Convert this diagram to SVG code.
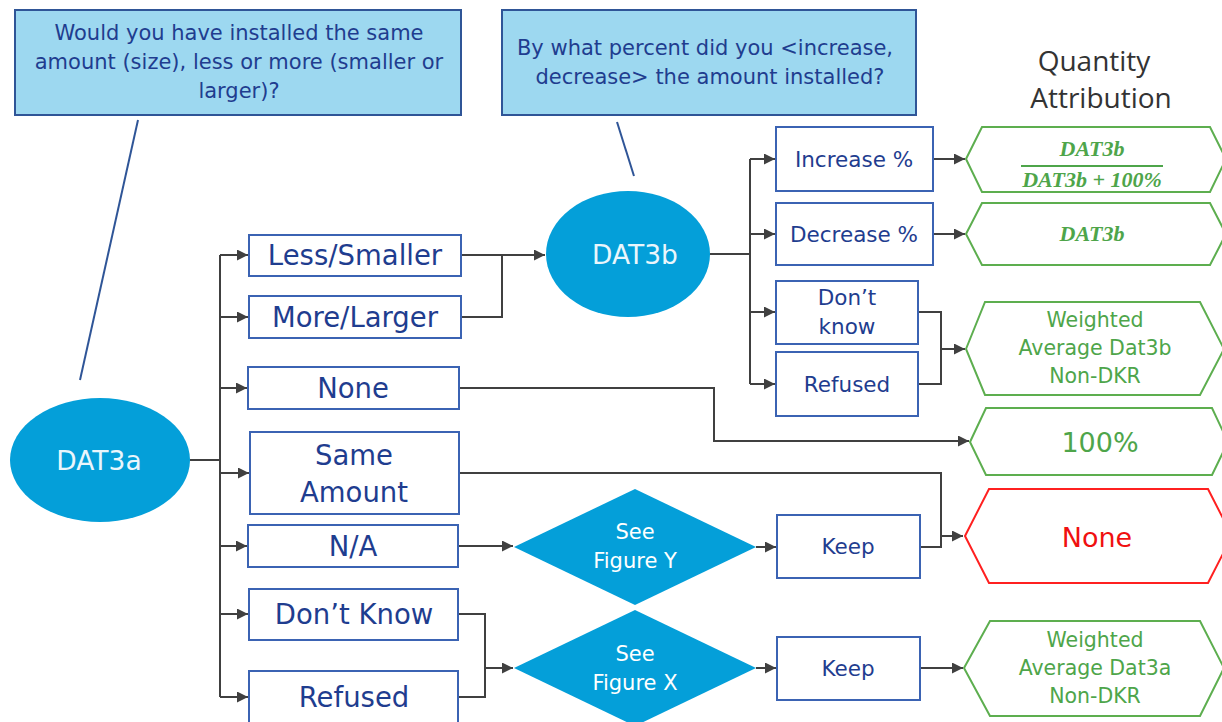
<svg xmlns="http://www.w3.org/2000/svg" width="1222" height="722" viewBox="0 0 1222 722">
<style>
.callout{fill:#9DD8F0;stroke:#2F5597;stroke-width:2}
.ctext{font-family:"DejaVu Sans",Verdana,sans-serif;font-size:21px;fill:#1F3D8F;text-anchor:middle}
.oval{fill:#049FD9}
.otext{font-family:"DejaVu Sans",sans-serif;font-size:26.5px;fill:#EAF6FC;text-anchor:middle;dominant-baseline:central}
.box{fill:#fff;stroke:#3B63B3;stroke-width:2}
.btext{font-family:"DejaVu Sans",Verdana,sans-serif;font-size:27.5px;fill:#1F3D8F;text-anchor:middle;dominant-baseline:central}
.stext{font-family:"DejaVu Sans",Verdana,sans-serif;font-size:21.5px;fill:#1F3D8F;text-anchor:middle;dominant-baseline:central}
.dtext{font-family:"DejaVu Sans",sans-serif;font-size:21px;fill:#fff;text-anchor:middle;dominant-baseline:central}
.ghex{fill:#fff;stroke:#5DAE4F;stroke-width:2}
.rhex{fill:#fff;stroke:#FF2020;stroke-width:2}
.gtext{font-family:"DejaVu Sans",sans-serif;font-size:20.5px;fill:#4EA54A;text-anchor:middle;dominant-baseline:central}
.math{font-family:"Liberation Serif","DejaVu Serif",serif;font-style:italic;font-weight:bold;font-size:22px;fill:#4EA54A;text-anchor:middle}
.conn{fill:none;stroke:#404040;stroke-width:2}
.arr{fill:none;stroke:#404040;stroke-width:2;marker-end:url(#ah)}
.cl{stroke:#2F5597;stroke-width:2}
.title{font-family:"Open Sans","Noto Sans",sans-serif;font-size:28px;fill:#333;text-anchor:middle}
</style>
<defs>
<marker id="ah" viewBox="0 0 10 10" refX="10" refY="5" markerWidth="5.5" markerHeight="5.5" markerUnits="strokeWidth" orient="auto">
<path d="M0,0 L10,5 L0,10 Z" fill="#404040"/>
</marker>
</defs>

<g id="connectors">
<path class="conn" d="M190,460 H220 M220,255 V697"/>
<path class="arr" d="M220,255 H248"/>
<path class="arr" d="M220,317 H248"/>
<path class="arr" d="M220,388 H247"/>
<path class="arr" d="M220,473 H249"/>
<path class="arr" d="M220,546 H247"/>
<path class="arr" d="M220,614 H248"/>
<path class="arr" d="M220,697 H248"/>
<path class="arr" d="M461,255 H545"/>
<path class="conn" d="M461,317 H502 V255"/>
<path class="arr" d="M459,388 H714 V441 H969"/>
<path class="conn" d="M459,473 H941 V547 H920"/>
<path class="arr" d="M941,536 H963"/>
<path class="arr" d="M458,546 H513"/>
<path class="conn" d="M458,614 H485 V697 H458"/>
<path class="arr" d="M485,668 H513"/>
<path class="arr" d="M756,547 H776"/>
<path class="arr" d="M756,668 H776"/>
<path class="arr" d="M920,668 H963"/>
<path class="conn" d="M710,254 H750 M750,159 V384"/>
<path class="arr" d="M750,159 H775"/>
<path class="arr" d="M750,234 H775"/>
<path class="arr" d="M750,312 H775"/>
<path class="arr" d="M750,384 H775"/>
<path class="arr" d="M933,159 H965"/>
<path class="arr" d="M933,234 H965"/>
<path class="conn" d="M918,312 H941 V384 H918"/>
<path class="arr" d="M941,349 H965"/>
<line class="cl" x1="138" y1="120" x2="80" y2="380"/>
<line class="cl" x1="617" y1="122" x2="634" y2="176"/>
</g>

<g id="q1">
<rect class="callout" x="15" y="10" width="446" height="105"/>
<text class="ctext" x="239" y="40">Would you have installed the same</text>
<text class="ctext" x="239" y="69">amount (size), less or more (smaller or</text>
<text class="ctext" x="239" y="98">larger)?</text>
</g>
<g id="q2">
<rect class="callout" x="502" y="10" width="414" height="105"/>
<text class="ctext" x="705" y="55">By what percent did you &lt;increase,</text>
<text class="ctext" x="710" y="84">decrease&gt; the amount installed?</text>
</g>
<g id="heading">
<text class="title" x="1094" y="71">Quantity</text>
<text class="title" x="1101" y="108">Attribution</text>
</g>

<g id="dat3a">
<ellipse class="oval" cx="100" cy="460" rx="90" ry="62"/>
<text class="otext" x="99" y="460">DAT3a</text>
</g>
<g id="dat3b">
<ellipse class="oval" cx="628" cy="254" rx="82" ry="63"/>
<text class="otext" x="635" y="254">DAT3b</text>
</g>

<g id="less"><rect class="box" x="249" y="235" width="212" height="41"/><text class="btext" x="355" y="255">Less/Smaller</text></g>
<g id="more"><rect class="box" x="249" y="296" width="212" height="42"/><text class="btext" x="355" y="317">More/Larger</text></g>
<g id="none"><rect class="box" x="248" y="367" width="211" height="42"/><text class="btext" x="353" y="388">None</text></g>
<g id="same"><rect class="box" x="250" y="432" width="209" height="82"/><text class="btext" x="354" y="455">Same</text><text class="btext" x="354" y="492">Amount</text></g>
<g id="na"><rect class="box" x="248" y="525" width="210" height="42"/><text class="btext" x="353" y="546">N/A</text></g>
<g id="dk"><rect class="box" x="249" y="589" width="209" height="51"/><text class="btext" x="354" y="614">Don’t Know</text></g>
<g id="ref"><rect class="box" x="249" y="671" width="209" height="60"/><text class="btext" x="354" y="697">Refused</text></g>

<g id="figy"><polygon fill="#049FD9" points="514,547 635,489 756,547 635,605"/><text class="dtext" x="635" y="532">See</text><text class="dtext" x="635" y="561">Figure Y</text></g>
<g id="figx"><polygon fill="#049FD9" points="514,668 635,610 756,668 635,726"/><text class="dtext" x="635" y="654">See</text><text class="dtext" x="635" y="683">Figure X</text></g>

<g id="keep1"><rect class="box" x="777" y="515" width="143" height="63"/><text class="stext" x="848" y="546">Keep</text></g>
<g id="keep2"><rect class="box" x="777" y="637" width="143" height="63"/><text class="stext" x="848" y="668">Keep</text></g>

<g id="inc"><rect class="box" x="776" y="127" width="157" height="64"/><text class="stext" x="854" y="159">Increase %</text></g>
<g id="dec"><rect class="box" x="776" y="203" width="157" height="62"/><text class="stext" x="854" y="234">Decrease %</text></g>
<g id="dk2"><rect class="box" x="776" y="281" width="142" height="63"/><text class="stext" x="847" y="297">Don’t</text><text class="stext" x="847" y="326">know</text></g>
<g id="ref2"><rect class="box" x="776" y="352" width="142" height="64"/><text class="stext" x="847" y="384">Refused</text></g>

<g id="h1"><polygon class="ghex" points="966,159 982,127 1210,127 1226,159 1210,192 982,192"/>
<text class="math" x="1092" y="156">DAT3b</text>
<line x1="1021" y1="166" x2="1163" y2="166" stroke="#4EA54A" stroke-width="2"/>
<text class="math" x="1092" y="187">DAT3b + 100%</text></g>
<g id="h2"><polygon class="ghex" points="966,234 982,203 1210,203 1226,234 1210,265 982,265"/>
<text class="math" x="1092" y="241">DAT3b</text></g>
<g id="h3"><polygon class="ghex" points="966,349 985,302 1200,302 1224,349 1200,395 985,395"/>
<text class="gtext" x="1095" y="320">Weighted</text><text class="gtext" x="1095" y="348">Average Dat3b</text><text class="gtext" x="1095" y="376">Non-DKR</text></g>
<g id="h100"><polygon class="ghex" points="970,442 986,408 1212,408 1228,442 1212,475 986,475"/>
<text class="gtext" x="1100" y="442" style="font-size:27px">100%</text></g>
<g id="hnone"><polygon class="rhex" points="965,536 989,489 1208,489 1232,536 1208,583 989,583"/>
<text class="gtext" x="1097" y="537" style="font-size:27px;fill:#F01010">None</text></g>
<g id="h4"><polygon class="ghex" points="964,668 990,621 1200,621 1224,668 1200,716 990,716"/>
<text class="gtext" x="1095" y="640">Weighted</text><text class="gtext" x="1095" y="668">Average Dat3a</text><text class="gtext" x="1095" y="696">Non-DKR</text></g>
</svg>
